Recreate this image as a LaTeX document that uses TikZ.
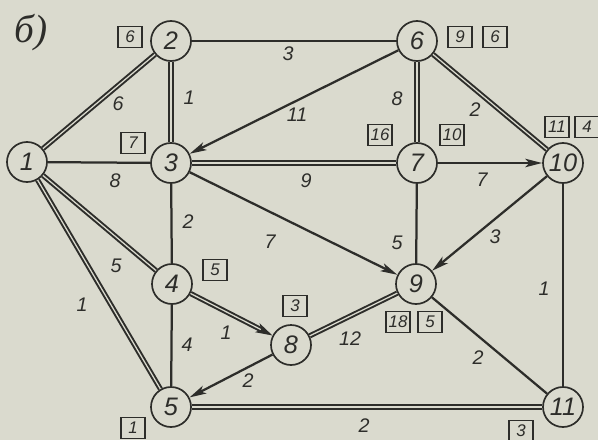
\documentclass[tikz,border=0pt]{standalone}
\usepackage{fontspec}
\setmainfont{Liberation Sans}
\newfontfamily\cyrfont{Liberation Serif}
\usetikzlibrary{arrows.meta}
\definecolor{paper}{RGB}{218,218,206}
\definecolor{ink}{RGB}{45,45,42}

\begin{document}
\begin{tikzpicture}[
  x=0.025cm, y=-0.025cm,
  vertex/.style={circle, draw=ink, line width=1.2pt, fill=paper, minimum size=1cm, inner sep=0pt, text=ink, font=\fontsize{18}{18}\selectfont\itshape},
  link/.style={draw=ink, line width=1.6pt},
  treelink/.style={draw=ink, line width=1.4pt, double=paper, double distance=0.9pt},
  arrowlink/.style={link, -{Stealth[length=12pt, width=6pt, inset=3pt]}},
  weight/.style={text=ink, inner sep=1pt, font=\fontsize{14}{14}\selectfont\itshape},
  tag/.style={draw=ink, line width=1.1pt, minimum width=0.6cm, minimum height=0.52cm, inner sep=1pt, text=ink, font=\fontsize{12}{12}\selectfont\itshape},
]
\useasboundingbox (0,0) rectangle (598,440);
\fill[paper] (0,0) rectangle (598,440);

\node[text=ink, font=\fontsize{28}{28}\selectfont\cyrfont\itshape] (title) at (31,33) {б)};

% vertices
\node[vertex] (n1) at (27,162) {1};
\node[vertex] (n2) at (171,41) {2};
\node[vertex] (n3) at (171,163) {3};
\node[vertex] (n4) at (172,284) {4};
\node[vertex] (n5) at (171,407) {5};
\node[vertex] (n6) at (417,41) {6};
\node[vertex] (n7) at (417,163) {7};
\node[vertex] (n8) at (291,345) {8};
\node[vertex] (n9) at (416,284) {9};
\node[vertex] (n10) at (563,163) {10};
\node[vertex] (n11) at (563,407) {11};

% connectors
\draw[treelink] (n1) -- (n2);
\draw[treelink] (n2) -- (n3);
\draw[link] (n2) -- (n6);
\draw[arrowlink] (n6) -- (n3);
\draw[link] (n1) -- (n3);
\draw[treelink] (n3) -- (n7);
\draw[treelink] (n6) -- (n7);
\draw[treelink] (n6) -- (n10);
\draw[arrowlink] (n7) -- (n10);
\draw[link] (n3) -- (n4);
\draw[arrowlink] (n3) -- (n9);
\draw[link] (n7) -- (n9);
\draw[arrowlink] (n10) -- (n9);
\draw[link] (n10) -- (n11);
\draw[treelink] (n1) -- (n4);
\draw[treelink] (n1) -- (n5);
\draw[treelink, -{Stealth[length=12pt, width=7pt, inset=3pt]}] (n4) -- (n8);
\draw[link] (n4) -- (n5);
\draw[arrowlink] (n8) -- (n5);
\draw[treelink] (n8) -- (n9);
\draw[link] (n9) -- (n11);
\draw[treelink] (n5) -- (n11);

% weights
\node[weight] (w12) at (118,104) {6};
\node[weight] (w23) at (189,98) {1};
\node[weight] (w26) at (288,54) {3};
\node[weight] (w63) at (297,115) {11};
\node[weight] (w13) at (115,181) {8};
\node[weight] (w37) at (306,181) {9};
\node[weight] (w67) at (397,99) {8};
\node[weight] (w610) at (475,110) {2};
\node[weight] (w710) at (482,180) {7};
\node[weight] (w34) at (188,222) {2};
\node[weight] (w39) at (270,242) {7};
\node[weight] (w79) at (397,243) {5};
\node[weight] (w109) at (495,237) {3};
\node[weight] (w1011) at (544,289) {1};
\node[weight] (w14) at (116,266) {5};
\node[weight] (w15) at (82,305) {1};
\node[weight] (w48) at (226,333) {1};
\node[weight] (w45) at (187,345) {4};
\node[weight] (w85) at (248,381) {2};
\node[weight] (w89) at (350,339) {12};
\node[weight] (w911) at (478,358) {2};
\node[weight] (w511) at (364,426) {2};

% labels of vertices
\node[tag] (t2) at (130,37) {6};
\node[tag] (t3) at (133,143) {7};
\node[tag] (t4) at (215,270) {5};
\node[tag] (t8) at (295,306) {3};
\node[tag] (t5) at (133,428) {1};
\node[tag] (t6a) at (460,37) {9};
\node[tag] (t6b) at (495,37) {6};
\node[tag] (t7a) at (380,135) {16};
\node[tag] (t7b) at (452,135) {10};
\node[tag] (t10a) at (557,127) {11};
\node[tag] (t10b) at (587,127) {4};
\node[tag] (t9a) at (398,322) {18};
\node[tag] (t9b) at (430,322) {5};
\node[tag] (t11) at (521,431) {3};
\end{tikzpicture}
\end{document}
